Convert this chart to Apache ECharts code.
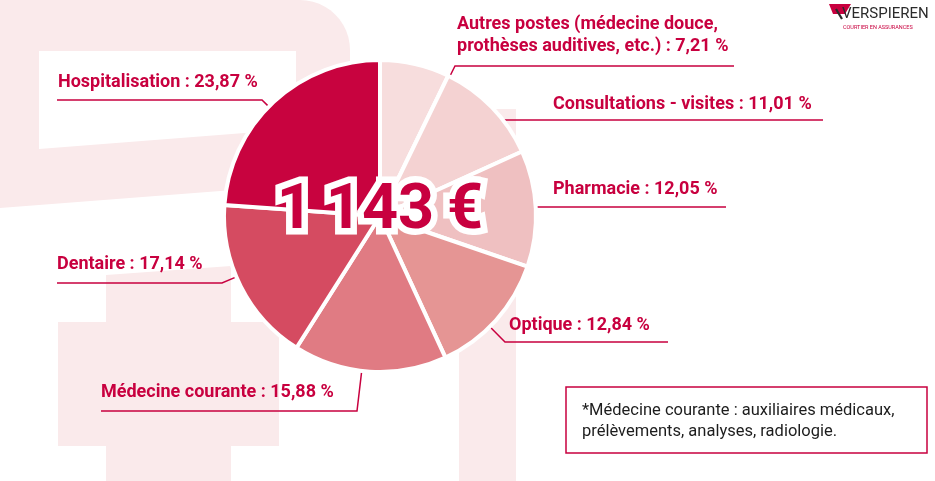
<!DOCTYPE html>
<html>
<head>
<meta charset="utf-8">
<script src="https://cdn.jsdelivr.net/npm/echarts@6/dist/echarts.min.js"></script>
<style>
  html, body { margin: 0; padding: 0; background: #fff; }
  #chart { width: 935px; height: 481px; }
</style>
</head>
<body>
<div id="chart"></div>
<script>
// data
var categories = [
  'Autres postes (médecine douce,\nprothèses auditives, etc.)',
  'Consultations - visites',
  'Pharmacie',
  'Optique',
  'Médecine courante',
  'Dentaire',
  'Hospitalisation'
];
var shares = [7.21, 11.01, 12.05, 12.84, 15.88, 17.14, 23.87];
var totalText = '1\u2009143\u2009€';
var noteLines = ['*Médecine courante : auxiliaires médicaux,', 'prélèvements, analyses, radiologie.'];

// style / layout
var red = '#C8003F';
var sliceColors = ['#F7DDDD', '#F4D2D2', '#EFC0C1', '#E59594', '#E07B83', '#D54B61', '#C8033F'];
var pink = '#FAEAEB';
var cx = 380, cy = 216, R = 156;
// text left x, text middle y, underline y, underline near x, underline far x
var labelPos = [
  [457, 35, 66, 455, 734],
  [553, 104, 120, 503, 823],
  [553, 189, 207, 538, 726],
  [509, 325, 342, 505, 668],
  [101, 392, 411, 357, 101],
  [57, 264, 283, 222, 57],
  [58, 82, 100, 262, 57]
];
var labelFont = 'Roboto';

var chart = echarts.init(document.getElementById('chart'), null, { renderer: 'canvas' });

var pieData = [];
for (var i = 0; i < categories.length; i++) {
  pieData.push({ name: categories[i], value: shares[i], itemStyle: { color: sliceColors[i] } });
}

function fmt(v) {
  return v.toFixed(2).replace('.', ',') + ' %';
}

// outline of the pale "2" with a rounded top right corner
var twoPts = [[0, 0], [300, 0]];
for (var a = 1; a < 12; a++) {
  var t = a / 12 * Math.PI / 2;
  twoPts.push([300 + 50 * Math.sin(t), 50 - 50 * Math.cos(t)]);
}
twoPts.push([350, 50], [350, 181], [0, 208]);

chart.setOption({
  backgroundColor: '#fff',
  animation: false,
  graphic: [
    // big pale "2"
    {
      type: 'polygon', z: 0,
      shape: { points: twoPts },
      style: { fill: pink }
    },
    {
      type: 'polygon', z: 0,
      shape: { points: [[39, 51], [296, 51], [296, 129], [39, 149]] },
      style: { fill: '#fff' }
    },
    // pale cross
    {
      type: 'polygon', z: 0,
      shape: { points: [[106, 275], [231, 266], [231, 481], [106, 481]] },
      style: { fill: pink }
    },
    {
      type: 'rect', z: 0,
      shape: { x: 58, y: 322, width: 221, height: 124 },
      style: { fill: pink }
    },
    // pale "1"
    {
      type: 'rect', z: 0,
      shape: { x: 459, y: 109, width: 57, height: 372 },
      style: { fill: pink }
    },
    // total in the middle
    {
      type: 'text', z: 100,
      x: cx, y: 212,
      style: {
        text: totalText,
        font: 'bold 63px Roboto',
        fill: red,
        stroke: '#fff',
        lineWidth: 13,
        align: 'center',
        verticalAlign: 'middle'
      }
    },
    // note box
    {
      type: 'rect', z: 1,
      shape: { x: 566, y: 387, width: 361, height: 66 },
      style: { fill: '#fff', stroke: red, lineWidth: 1.5 }
    },
    {
      type: 'text', z: 2,
      x: 582, y: 411,
      style: { text: noteLines[0], font: '16.5px Roboto', fill: '#1d1d1d', verticalAlign: 'middle' }
    },
    {
      type: 'text', z: 2,
      x: 582, y: 432,
      style: { text: noteLines[1], font: '16.5px Roboto', fill: '#1d1d1d', verticalAlign: 'middle' }
    },
    // logo
    {
      type: 'polygon', z: 2,
      shape: { points: [[829, 4], [851, 4], [845, 14], [833, 14]] },
      style: { fill: red }
    },
    {
      type: 'polyline', z: 3,
      shape: { points: [[836, 9], [842, 19]] },
      style: { stroke: '#2b2b2b', lineWidth: 2.2 }
    },
    {
      type: 'text', z: 2,
      x: 842, y: 14,
      style: { text: 'VERSPIEREN', font: '15px Roboto', fill: '#2b2b2b', verticalAlign: 'middle' }
    },
    {
      type: 'text', z: 2,
      x: 843, y: 28,
      style: { text: 'COURTIER EN ASSURANCES', font: '5.5px Roboto', fill: red, verticalAlign: 'middle' }
    }
  ],
  series: [
    {
      type: 'pie',
      z: 5,
      center: [cx, cy],
      radius: [0, R],
      startAngle: 90,
      clockwise: true,
      avoidLabelOverlap: false,
      itemStyle: { borderColor: '#fff', borderWidth: 4 },
      label: {
        show: true,
        position: 'outer',
        color: red,
        fontFamily: labelFont,
        fontWeight: 'bold',
        fontSize: 18,
        lineHeight: 22,
        formatter: function (p) {
          return p.name + ' : ' + fmt(p.value);
        }
      },
      labelLine: {
        show: true,
        smooth: false,
        length: 10,
        length2: 10,
        lineStyle: { color: red, width: 1.5 }
      },
      labelLayout: function (params) {
        var p = labelPos[params.dataIndex];
        var dx = p[3] - cx, dy = p[2] - cy;
        var d = Math.sqrt(dx * dx + dy * dy);
        var start = [cx + dx / d * R, cy + dy / d * R];
        return {
          x: p[0],
          y: p[1],
          align: 'left',
          verticalAlign: 'middle',
          labelLinePoints: [start, [p[3], p[2]], [p[4], p[2]]]
        };
      },
      emphasis: { disabled: true },
      data: pieData
    }
  ]
});
</script>
</body>
</html>
